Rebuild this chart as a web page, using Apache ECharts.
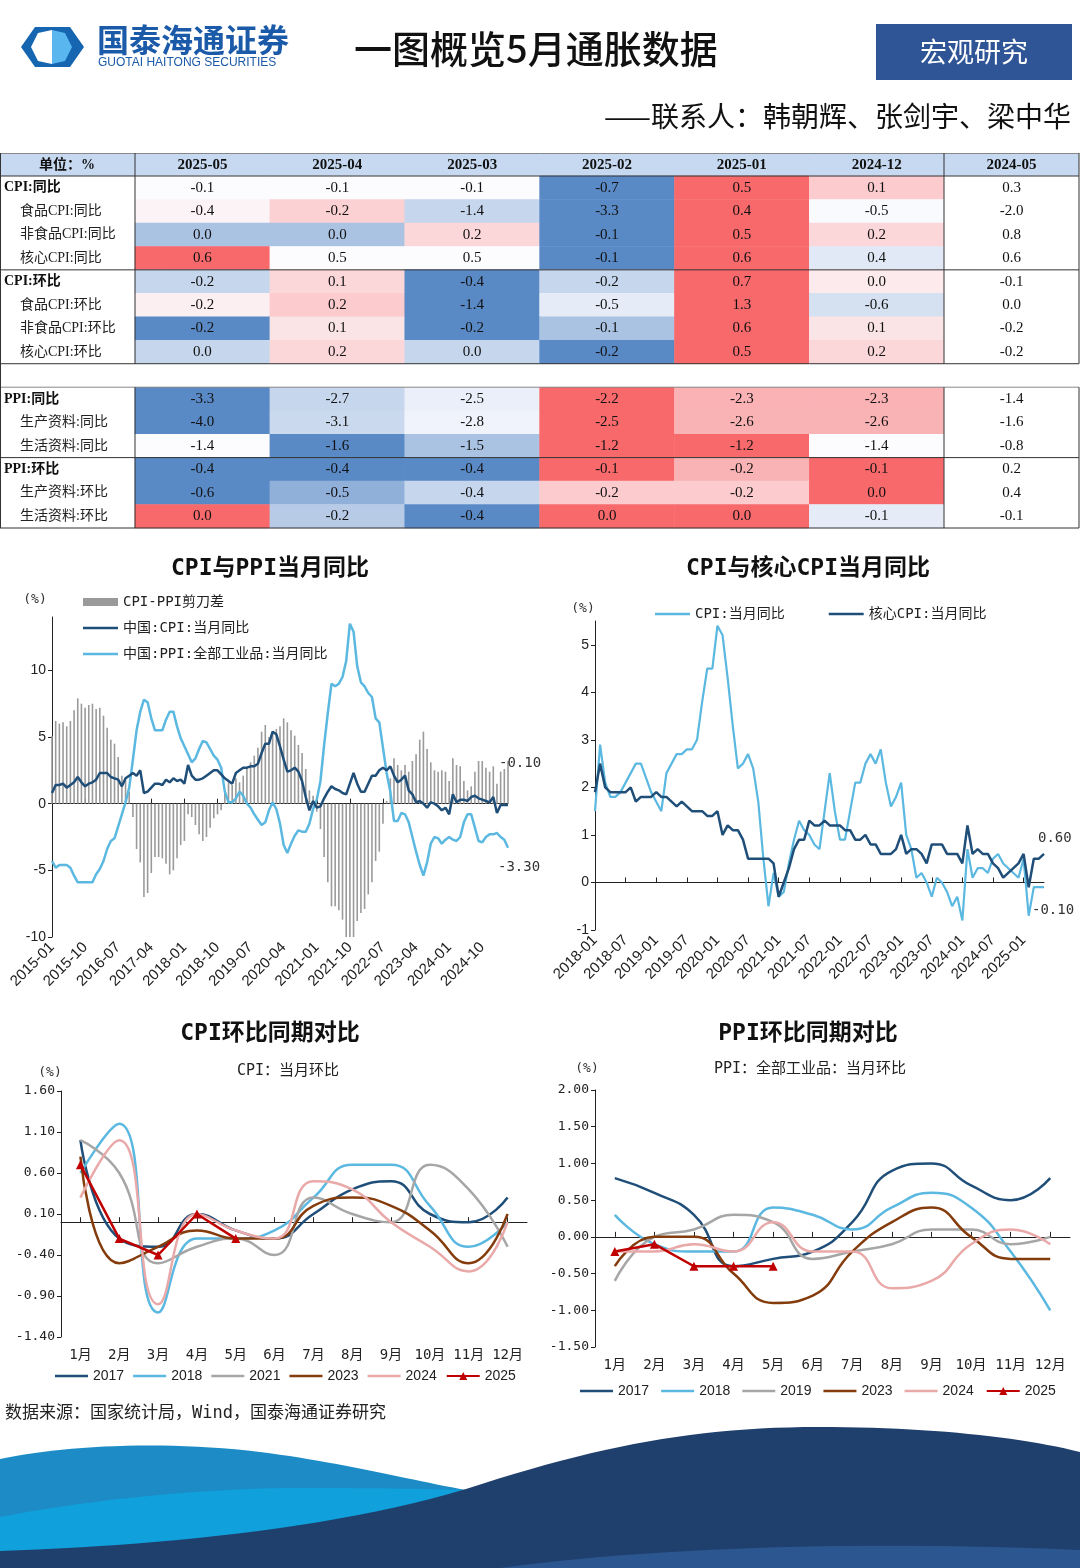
<!DOCTYPE html>
<html>
<head>
<meta charset="utf-8">
<title>一图概览5月通胀数据</title>
<script src="https://cdn.jsdelivr.net/npm/echarts@6.0.0/dist/echarts.min.js"></script>
<style>
  html, body { margin: 0; padding: 0; background: #fff; }
  #page { width: 1080px; height: 1568px; }
</style>
</head>
<body>
<div id="page"></div>
<script>
// ===== 表格：通胀数据一览 =====
const tableCols = ['2025-05', '2025-04', '2025-03', '2025-02', '2025-01', '2024-12', '2024-05']
const tableRowNames = [
  'CPI:同比', '食品CPI:同比', '非食品CPI:同比', '核心CPI:同比',
  'CPI:环比', '食品CPI:环比', '非食品CPI:环比', '核心CPI:环比',
  '',
  'PPI:同比', '生产资料:同比', '生活资料:同比',
  'PPI:环比', '生产资料:环比', '生活资料:环比'
]
const tableGroupRows = [0, 4, 9, 12]
const tableValues = [
  [-0.1, -0.1, -0.1, -0.7, 0.5, 0.1, 0.3],
  [-0.4, -0.2, -1.4, -3.3, 0.4, -0.5, -2.0],
  [0.0, 0.0, 0.2, -0.1, 0.5, 0.2, 0.8],
  [0.6, 0.5, 0.5, -0.1, 0.6, 0.4, 0.6],
  [-0.2, 0.1, -0.4, -0.2, 0.7, 0.0, -0.1],
  [-0.2, 0.2, -1.4, -0.5, 1.3, -0.6, 0.0],
  [-0.2, 0.1, -0.2, -0.1, 0.6, 0.1, -0.2],
  [0.0, 0.2, 0.0, -0.2, 0.5, 0.2, -0.2],
  null,
  [-3.3, -2.7, -2.5, -2.2, -2.3, -2.3, -1.4],
  [-4.0, -3.1, -2.8, -2.5, -2.6, -2.6, -1.6],
  [-1.4, -1.6, -1.5, -1.2, -1.2, -1.4, -0.8],
  [-0.4, -0.4, -0.4, -0.1, -0.2, -0.1, 0.2],
  [-0.6, -0.5, -0.4, -0.2, -0.2, 0.0, 0.4],
  [0.0, -0.2, -0.4, 0.0, 0.0, -0.1, -0.1]
]

// ===== 图1：CPI与PPI当月同比（2015-01 ~ 2025-05）=====
const cpiYoy = [
  0.8, 1.4, 1.4, 1.5, 1.2, 1.4, 1.6, 2.0, 1.6, 1.3, 1.5, 1.6,
  1.8, 2.3, 2.3, 2.3, 2.0, 1.9, 1.8, 1.3, 1.9, 2.1, 2.3, 2.1,
  2.5, 0.8, 0.9, 1.2, 1.5, 1.5, 1.4, 1.8, 1.6, 1.9, 1.7, 1.8,
  1.5, 2.9, 2.1, 1.8, 1.8, 1.9, 2.1, 2.3, 2.5, 2.5, 2.2, 1.9,
  1.7, 1.5, 2.3, 2.5, 2.7, 2.7, 2.8, 2.8, 3.0, 3.8, 4.5, 4.5,
  5.4, 5.2, 4.3, 3.3, 2.4, 2.5, 2.7, 2.4, 1.7, 0.5, -0.5, 0.2,
  -0.3, -0.2, 0.4, 0.9, 1.3, 1.1, 1.0, 0.8, 0.7, 1.5, 2.3, 1.5,
  0.9, 0.9, 1.5, 2.1, 2.1, 2.5, 2.7, 2.5, 2.8, 2.1, 1.6, 1.8,
  2.1, 1.0, 0.7, 0.1, 0.2, 0.0, -0.3, 0.1, 0.0, -0.2, -0.5, -0.3,
  -0.8, 0.7, 0.1, 0.3, 0.3, 0.2, 0.5, 0.6, 0.4, 0.3, 0.2, 0.1,
  0.5, -0.7, -0.1, -0.1, -0.1
]
const ppiYoy = [
  -4.3, -4.8, -4.6, -4.6, -4.6, -4.8, -5.4, -5.9, -5.9, -5.9, -5.9, -5.9,
  -5.3, -4.9, -4.3, -3.4, -2.8, -2.6, -1.7, -0.8, 0.1, 1.2, 3.3, 5.5,
  6.9, 7.8, 7.6, 6.4, 5.5, 5.5, 5.5, 6.3, 6.9, 6.9, 5.8, 4.9,
  4.3, 3.7, 3.1, 3.4, 4.1, 4.7, 4.6, 4.1, 3.6, 3.3, 2.7, 0.9,
  0.1, 0.1, 0.4, 0.9, 0.6, 0.0, -0.3, -0.8, -1.2, -1.6, -1.4, -0.5,
  0.1, -0.4, -1.5, -3.1, -3.7, -3.0, -2.4, -2.0, -2.1, -2.1, -1.5, -0.4,
  0.3, 1.7, 4.4, 6.8, 9.0, 8.8, 9.0, 9.5, 10.7, 13.5, 12.9, 10.3,
  9.1, 8.8, 8.3, 8.0, 6.4, 6.1, 4.2, 2.3, 0.9, -1.3, -1.3, -0.7,
  -0.8, -1.4, -2.5, -3.6, -4.6, -5.4, -4.4, -3.0, -2.5, -2.6, -3.0, -2.7,
  -2.5, -2.7, -2.8, -2.5, -1.4, -0.8, -0.8, -1.8, -2.8, -2.9, -2.5, -2.3,
  -2.3, -2.2, -2.5, -2.7, -3.3
]
const cpiPpiGap = [
  5.1, 6.2, 6.0, 6.1, 5.8, 6.2, 7.0, 7.9, 7.5, 7.2, 7.4, 7.5,
  7.1, 7.2, 6.6, 5.7, 4.8, 4.5, 3.5, 2.1, 1.8, 0.9, -1.0, -3.4,
  -4.4, -7.0, -6.7, -5.2, -4.0, -4.0, -4.1, -4.5, -5.3, -5.0, -4.1, -3.1,
  -2.8, -0.8, -1.0, -1.6, -2.3, -2.8, -2.5, -1.8, -1.1, -0.8, -0.5, 1.0,
  1.6, 1.4, 1.9, 1.6, 2.1, 2.7, 3.1, 3.6, 4.2, 5.4, 5.9, 5.0,
  5.3, 5.6, 5.8, 6.4, 6.1, 5.5, 5.1, 4.4, 3.8, 2.6, 1.0, 0.6,
  -0.6, -1.9, -4.0, -5.9, -7.7, -7.7, -8.0, -8.7, -10.0, -12.0, -10.6, -8.8,
  -8.2, -7.9, -6.8, -5.9, -4.3, -3.6, -1.5, 0.2, 1.9, 3.4, 2.9, 2.5,
  2.9, 2.4, 3.2, 3.7, 4.8, 5.4, 4.1, 3.1, 2.5, 2.4, 2.5, 2.4,
  1.7, 3.4, 2.9, 2.8, 1.7, 1.0, 1.3, 2.4, 3.2, 3.2, 2.7, 2.4,
  2.8, 1.5, 2.4, 2.6, 3.2
]
const chart1Ticks = [-10, -5, 0, 5, 10]

// ===== 图2：CPI与核心CPI当月同比（2018-01 ~ 2025-05）=====
const coreCpiYoy = [
  1.9, 2.5, 2.0, 1.9, 1.9, 1.9, 1.9, 2.0, 1.7, 1.8, 1.8, 1.8,
  1.9, 1.8, 1.8, 1.7, 1.6, 1.7, 1.6, 1.5, 1.5, 1.5, 1.4, 1.4,
  1.5, 1.0, 1.2, 1.1, 1.1, 0.9, 0.5, 0.5, 0.5, 0.5, 0.5, 0.4,
  -0.3, 0.0, 0.3, 0.7, 0.9, 0.9, 1.3, 1.2, 1.2, 1.3, 1.2, 1.2,
  1.2, 1.1, 1.1, 0.9, 0.9, 1.0, 0.8, 0.8, 0.6, 0.6, 0.6, 0.7,
  1.0, 0.6, 0.7, 0.7, 0.6, 0.4, 0.8, 0.8, 0.8, 0.6, 0.6, 0.6,
  0.4, 1.2, 0.6, 0.7, 0.6, 0.6, 0.4, 0.3, 0.1, 0.2, 0.3, 0.4,
  0.6, -0.1, 0.5, 0.5, 0.6
]
const cpiYoySince2018 = cpiYoy.slice(36)
const chart2Ticks = [-1, 0, 1, 2, 3, 4, 5]

// ===== 图3：CPI环比同期对比 =====
const monthNames = ['1月', '2月', '3月', '4月', '5月', '6月', '7月', '8月', '9月', '10月', '11月', '12月']
const cpiMom2017 = [1.0, -0.2, -0.3, 0.1, -0.1, -0.2, 0.1, 0.4, 0.5, 0.1, 0.0, 0.3]
const cpiMom2018 = [0.6, 1.2, -1.1, -0.2, -0.2, -0.1, 0.3, 0.7, 0.7, 0.2, -0.3, 0.0]
const cpiMom2021 = [1.0, 0.6, -0.5, -0.3, -0.2, -0.4, 0.3, 0.1, 0.0, 0.7, 0.4, -0.3]
const cpiMom2023 = [0.8, -0.5, -0.3, -0.1, -0.2, -0.2, 0.2, 0.3, 0.2, -0.1, -0.5, 0.1]
const cpiMom2024 = [0.3, 1.0, -1.0, 0.1, -0.1, -0.2, 0.5, 0.4, 0.0, -0.3, -0.6, 0.0]
const cpiMom2025 = [0.7, -0.2, -0.4, 0.1, -0.2]
const chart3Ticks = [-1.4, -0.9, -0.4, 0.1, 0.6, 1.1, 1.6]

// ===== 图4：PPI环比同期对比 =====
const ppiMom2017 = [0.8, 0.6, 0.3, -0.4, -0.3, -0.2, 0.2, 0.9, 1.0, 0.7, 0.5, 0.8]
const ppiMom2018 = [0.3, -0.1, -0.2, -0.2, 0.4, 0.3, 0.1, 0.4, 0.6, 0.4, -0.2, -1.0]
const ppiMom2019 = [-0.6, 0.0, 0.1, 0.3, 0.2, -0.3, -0.2, -0.1, 0.1, 0.1, -0.1, 0.0]
const ppiMom2023 = [-0.4, 0.0, 0.0, -0.5, -0.9, -0.8, -0.2, 0.2, 0.4, 0.0, -0.3, -0.3]
const ppiMom2024 = [-0.2, -0.2, -0.1, -0.2, 0.2, -0.2, -0.2, -0.7, -0.6, -0.1, 0.1, -0.1]
const ppiMom2025 = [-0.2, -0.1, -0.4, -0.4, -0.4]
const chart4Ticks = [-1.5, -1.0, -0.5, 0.0, 0.5, 1.0, 1.5, 2.0]

// ===== 样式常量 =====
const SANS = '"Liberation Sans", Arial, sans-serif'
const MONO = '"DejaVu Sans Mono", "Noto Sans CJK SC", monospace'
const SERIF = '"Liberation Serif", "Noto Sans CJK SC", serif'
const CJK = '"Noto Sans CJK SC", sans-serif'
const DARK = '#1f4e79'
const LIGHT = '#5bb8e0'
const GRAY = '#a6a6a6'
const BROWN = '#843c0c'
const PINK = '#eaa9a9'
const RED = '#c00000'
const LINE_ICON = 'path://M0,0H40V3H0Z'

// 生成月份类目
const monthRange = (y, m, n) => {
  const out = []
  for (let i = 0; i < n; i++) {
    out.push(y + '-' + String(m).padStart(2, '0'))
    m++
    if (m > 12) { m = 1; y++ }
  }
  return out
}
const months2015 = monthRange(2015, 1, cpiYoy.length)
const months2018 = monthRange(2018, 1, coreCpiYoy.length)

// 三色阶（蓝-白-红，中点为50%分位），按行计算
const C_MIN = [90, 138, 198], C_MID = [252, 252, 255], C_MAX = [248, 105, 107]
const mix = (a, b, t) => a.map((v, i) => Math.round(v + (b[i] - v) * t))
const rowColors = (vals) => {
  const s = [...vals].sort((a, b) => a - b)
  const min = s[0], max = s[s.length - 1]
  const mid = (s[2] + s[3]) / 2
  return vals.map(v => {
    let c
    if (v <= mid + 1e-9) c = mid - min < 1e-9 ? C_MID : mix(C_MIN, C_MID, (v - min) / (mid - min))
    else c = mix(C_MID, C_MAX, (v - mid) / (max - mid))
    return 'rgb(' + c.join(',') + ')'
  })
}

const heatData = []
tableValues.forEach((row, r) => {
  if (!row) return
  const colors = rowColors(row.slice(0, 6))
  row.forEach((v, c) => {
    heatData.push({ value: [c, r, v], itemStyle: { color: c < 6 ? colors[c] : '#ffffff' } })
  })
})

// 表格布局
const T_TOP = 153, T_HEAD = 176, T_BOTTOM = 528, T_LEFT = 135, T_RIGHT = 1079
const rowH = (T_BOTTOM - T_HEAD) / tableRowNames.length
const rowY = k => T_HEAD + k * rowH
const hLine = (y, color) => ({ type: 'line', z: 100, shape: { x1: 0, y1: y, x2: T_RIGHT, y2: y }, style: { stroke: color || '#333', lineWidth: 1 } })
const vLine = (x, y1, y2) => ({ type: 'line', z: 100, shape: { x1: x, y1, x2: x, y2 }, style: { stroke: '#333', lineWidth: 1 } })

const txt = (text, x, y, font, fill, align) => ({
  type: 'text', x, y, z: 50,
  style: { text, font, fill: fill || '#111', align: align || 'center', verticalAlign: 'middle' }
})

// 页脚波浪：三次贝塞尔曲线取点，拼成多边形
const bez = (p0, p1, p2, p3) => {
  const pts = []
  for (let i = 0; i <= 24; i++) {
    const t = i / 24, u = 1 - t
    pts.push([
      u * u * u * p0[0] + 3 * u * u * t * p1[0] + 3 * u * t * t * p2[0] + t * t * t * p3[0],
      u * u * u * p0[1] + 3 * u * u * t * p1[1] + 3 * u * t * t * p2[1] + t * t * t * p3[1]
    ])
  }
  return pts
}
const wave = (curves, tail, fill, z) => ({
  type: 'polygon', z,
  shape: { points: [].concat(...curves.map(c => bez(...c)), tail) },
  style: { fill }
})

const graphics = [
  // 页眉 logo
  { type: 'polygon', shape: { points: [[21, 47], [35, 27], [70, 27], [84, 47], [70, 67], [35, 67]] }, style: { fill: '#1565b0' } },
  { type: 'polygon', shape: { points: [[38, 33], [52, 30], [52, 64], [38, 61], [31, 47]] }, style: { fill: '#ffffff' } },
  { type: 'polygon', shape: { points: [[52, 30], [65, 33], [72, 47], [65, 61], [52, 64]] }, style: { fill: '#5ab6ee' } },
  txt('国泰海通证券', 97, 40, 'bold 32px ' + CJK, '#1a5aa8', 'left'),
  txt('GUOTAI HAITONG SECURITIES', 98, 63, '12px ' + SANS, '#1a5aa8', 'left'),
  txt('一图概览5月通胀数据', 354, 49, '500 38px ' + CJK, '#111', 'left'),
  { type: 'rect', shape: { x: 876, y: 24, width: 196, height: 56 }, style: { fill: '#2f5597' } },
  txt('宏观研究', 974, 52, '27px ' + CJK, '#ffffff'),
  txt('——联系人：韩朝辉、张剑宇、梁中华', 1071, 116, '28px ' + CJK, '#111', 'right'),

  // 表头
  { type: 'rect', z: -10, shape: { x: 0, y: T_TOP, width: T_RIGHT, height: T_HEAD - T_TOP }, style: { fill: '#c6d9f0' } },
  txt('单位：%', 67, 165, 'bold 14px ' + SERIF, '#111'),
  hLine(T_TOP + 0.5, '#888'),
  hLine(T_HEAD),
  hLine(rowY(4)),
  hLine(rowY(8)),
  hLine(rowY(9), '#888'),
  hLine(rowY(12)),
  hLine(T_BOTTOM),
  vLine(0.5, T_TOP, T_BOTTOM),
  vLine(T_RIGHT, T_TOP, rowY(8)), vLine(T_RIGHT, rowY(9), T_BOTTOM),
  vLine(T_LEFT, T_TOP, rowY(8)), vLine(T_LEFT, rowY(9), T_BOTTOM),
  vLine(944, T_TOP, rowY(8)), vLine(944, rowY(9), T_BOTTOM),

  // 图标题
  txt('CPI与PPI当月同比', 270, 569, 'bold 23px ' + MONO, '#111'),
  txt('CPI与核心CPI当月同比', 808, 569, 'bold 23px ' + MONO, '#111'),
  txt('CPI环比同期对比', 270, 1034, 'bold 23px ' + MONO, '#111'),
  txt('PPI环比同期对比', 808, 1034, 'bold 23px ' + MONO, '#111'),
  txt('CPI：当月环比', 288, 1071, '15px ' + MONO, '#222'),
  txt('PPI：全部工业品：当月环比', 810, 1069, '15px ' + MONO, '#222'),
  txt('(%)', 35, 600, '13px ' + MONO, '#333'),
  txt('(%)', 583, 609, '13px ' + MONO, '#333'),
  txt('(%)', 50, 1073, '13px ' + MONO, '#333'),
  txt('(%)', 587, 1069, '13px ' + MONO, '#333'),

  // 页脚
  txt('数据来源：国家统计局，Wind，国泰海通证券研究', 5, 1414, '17px ' + MONO, '#222', 'left'),
  wave([[[0, 1459], [60, 1446], [160, 1440], [260, 1452]], [[260, 1452], [340, 1462], [410, 1480], [466, 1490]]],
    [[466, 1568], [0, 1568]], '#1d8cc6', -5),
  wave([[[0, 1517], [90, 1500], [200, 1488], [300, 1488]], [[300, 1488], [380, 1488], [430, 1489], [466, 1490]]],
    [[466, 1568], [0, 1568]], '#10a0db', -4),
  wave([[[0, 1551], [150, 1546], [330, 1530], [466, 1489]], [[466, 1489], [600, 1445], [700, 1427], [818, 1427]],
    [[818, 1427], [930, 1427], [1020, 1437], [1080, 1452]]],
    [[1080, 1568], [0, 1568]], '#1f3f6d', -3),
  wave([[[500, 1568], [650, 1548], [850, 1540], [1080, 1550]]], [[1080, 1568]], '#2b5690', -2)
]

// 坐标轴通用设置
const yAxisBase = (gridIndex, min, max, ticks, fmt, font) => ({
  type: 'value', gridIndex, min, max,
  axisLine: { show: true, lineStyle: { color: '#222' } },
  axisTick: { show: true, length: 4, customValues: ticks, lineStyle: { color: '#222' } },
  axisLabel: { customValues: ticks, formatter: fmt, color: '#222', fontFamily: font, fontSize: font === SANS ? 14 : 13, margin: 6 },
  splitLine: { show: false }
})
const labelAxis = (gridIndex, data, extra) => Object.assign({
  type: 'category', gridIndex, data,
  axisLine: { show: false, onZero: false },
  axisTick: { show: false }
}, extra)
const zeroAxis = (gridIndex, data, boundaryGap, tickInterval) => ({
  type: 'category', gridIndex, data, boundaryGap,
  axisLine: { show: true, onZero: true, lineStyle: { color: '#222' } },
  axisTick: { show: true, length: 5, interval: tickInterval, alignWithLabel: true, lineStyle: { color: '#222' } },
  axisLabel: { show: false }
})
const endLabel = (dx, dy) => ({
  show: true, distance: 0, offset: [dx, dy], align: 'left',
  formatter: p => Number(p.value).toFixed(2),
  color: '#333', fontFamily: MONO, fontSize: 14
})
const lineSeries = (name, data, color, xi, yi, width, extra) => Object.assign({
  name, type: 'line', data, xAxisIndex: xi, yAxisIndex: yi,
  symbol: 'none', lineStyle: { color, width: width || 2.5 }, itemStyle: { color },
  emphasis: { disabled: true }
}, extra)
const lineItems = names => names.map(n => n === '2025' ? { name: n } : { name: n, icon: LINE_ICON })

const option = {
  backgroundColor: '#ffffff',
  animation: false,
  graphic: { elements: graphics },
  grid: [
    { left: T_LEFT, top: T_HEAD, width: T_RIGHT - T_LEFT, height: T_BOTTOM - T_HEAD },
    { left: 52, top: 617, width: 456, height: 320 },
    { left: 595, top: 621, width: 449, height: 309 },
    { left: 61, top: 1091, width: 466, height: 246 },
    { left: 595, top: 1090, width: 475, height: 257 }
  ],
  legend: [
    {
      left: 83, top: 595, padding: 0, orient: 'vertical', itemGap: 12, itemWidth: 35, itemHeight: 8,
      textStyle: { fontFamily: MONO, fontSize: 14, color: '#222' },
      data: [{ name: 'CPI-PPI剪刀差', icon: 'rect' }].concat(lineItems(['中国:CPI:当月同比', '中国:PPI:全部工业品:当月同比']))
    },
    {
      left: 655, top: 607, padding: 0, itemGap: 44, itemWidth: 35, itemHeight: 8,
      textStyle: { fontFamily: MONO, fontSize: 14, color: '#222' },
      data: lineItems(['CPI:当月同比', '核心CPI:当月同比'])
    },
    {
      left: 55, top: 1369, padding: 0, itemGap: 9, itemWidth: 33, itemHeight: 10,
      textStyle: { fontFamily: SANS, fontSize: 14, color: '#222' },
      data: lineItems(['2017', '2018', '2021', '2023', '2024', '2025'])
    },
    {
      left: 580, top: 1384, padding: 0, itemGap: 12, itemWidth: 33, itemHeight: 10,
      textStyle: { fontFamily: SANS, fontSize: 14, color: '#222' },
      data: lineItems(['2017', '2018', '2019', '2023', '2024', '2025'])
    }
  ],
  xAxis: [
    // 0 表格列
    {
      type: 'category', gridIndex: 0, data: tableCols, position: 'top',
      axisLine: { show: false }, axisTick: { show: false }, splitLine: { show: false },
      axisLabel: { fontFamily: SERIF, fontWeight: 'bold', fontSize: 15, color: '#111', margin: 3 }
    },
    // 1,2 图1
    labelAxis(1, months2015, {
      boundaryGap: false,
      axisLabel: { interval: 8, rotate: 45, margin: 8, fontFamily: SANS, fontSize: 15, color: '#222' }
    }),
    zeroAxis(1, months2015, false, 8),
    // 3,4 图2
    labelAxis(2, months2018, {
      boundaryGap: false,
      axisLabel: { interval: 5, rotate: 45, margin: 8, fontFamily: SANS, fontSize: 15, color: '#222' }
    }),
    zeroAxis(2, months2018, false, 5),
    // 5,6 图3
    labelAxis(3, monthNames, { axisLabel: { margin: 11, fontFamily: MONO, fontSize: 14, color: '#222', interval: 0 } }),
    zeroAxis(3, monthNames, true, 0),
    // 7,8 图4
    labelAxis(4, monthNames, { axisLabel: { margin: 11, fontFamily: MONO, fontSize: 14, color: '#222', interval: 0 } }),
    zeroAxis(4, monthNames, true, 0)
  ],
  yAxis: [
    {
      type: 'category', gridIndex: 0, data: tableRowNames, inverse: true,
      axisLine: { show: false }, axisTick: { show: false }, splitLine: { show: false },
      axisLabel: {
        align: 'left', margin: T_LEFT - 4, interval: 0,
        formatter: (v, i) => v === '' ? '' : (tableGroupRows.includes(i) ? '{b|' + v + '}' : '{s|' + v + '}'),
        rich: {
          b: { fontFamily: SERIF, fontWeight: 'bold', fontSize: 14, color: '#111' },
          s: { fontFamily: SERIF, fontSize: 14, color: '#222', padding: [0, 0, 0, 16] }
        }
      }
    },
    yAxisBase(1, -10, 14, chart1Ticks, v => String(v), SANS),
    yAxisBase(2, -1, 5.5, chart2Ticks, v => String(v), SANS),
    yAxisBase(3, -1.4, 1.6, chart3Ticks, v => v.toFixed(2), MONO),
    yAxisBase(4, -1.5, 2.0, chart4Ticks, v => v.toFixed(2), MONO)
  ],
  series: [
    {
      type: 'heatmap', xAxisIndex: 0, yAxisIndex: 0, data: heatData,
      label: {
        show: true, formatter: p => p.value[2].toFixed(1),
        fontFamily: SERIF, fontSize: 15, color: '#111'
      },
      emphasis: { disabled: true }
    },
    {
      name: 'CPI-PPI剪刀差', type: 'bar', data: cpiPpiGap, xAxisIndex: 1, yAxisIndex: 1,
      barWidth: 1.6, itemStyle: { color: '#9a9a9a' }, emphasis: { disabled: true }
    },
    lineSeries('中国:PPI:全部工业品:当月同比', ppiYoy, LIGHT, 1, 1, 2.5, { endLabel: endLabel(-10, 20) }),
    lineSeries('中国:CPI:当月同比', cpiYoy, DARK, 1, 1, 2.5, { endLabel: endLabel(-9, -42) }),

    lineSeries('CPI:当月同比', cpiYoySince2018, LIGHT, 3, 2, 2.2, { endLabel: endLabel(-12, 23) }),
    lineSeries('核心CPI:当月同比', coreCpiYoy, DARK, 3, 2, 2.5, { endLabel: endLabel(-6, -16) }),

    lineSeries('2017', cpiMom2017, DARK, 5, 3, 2.5, { smooth: true }),
    lineSeries('2018', cpiMom2018, LIGHT, 5, 3, 2.5, { smooth: true }),
    lineSeries('2021', cpiMom2021, GRAY, 5, 3, 2.5, { smooth: true }),
    lineSeries('2023', cpiMom2023, BROWN, 5, 3, 2.5, { smooth: true }),
    lineSeries('2024', cpiMom2024, PINK, 5, 3, 2.5, { smooth: true }),
    lineSeries('2025', cpiMom2025, RED, 5, 3, 2.5, { symbol: 'triangle', symbolSize: 9 }),

    lineSeries('2017', ppiMom2017, DARK, 7, 4, 2.5, { smooth: true }),
    lineSeries('2018', ppiMom2018, LIGHT, 7, 4, 2.5, { smooth: true }),
    lineSeries('2019', ppiMom2019, GRAY, 7, 4, 2.5, { smooth: true }),
    lineSeries('2023', ppiMom2023, BROWN, 7, 4, 2.5, { smooth: true }),
    lineSeries('2024', ppiMom2024, PINK, 7, 4, 2.5, { smooth: true }),
    lineSeries('2025', ppiMom2025, RED, 7, 4, 2.5, { symbol: 'triangle', symbolSize: 9 })
  ]
}

const chart = echarts.init(document.getElementById('page'))
chart.setOption(option)
window.addEventListener('resize', () => chart.resize())
</script>
</body>
</html>
